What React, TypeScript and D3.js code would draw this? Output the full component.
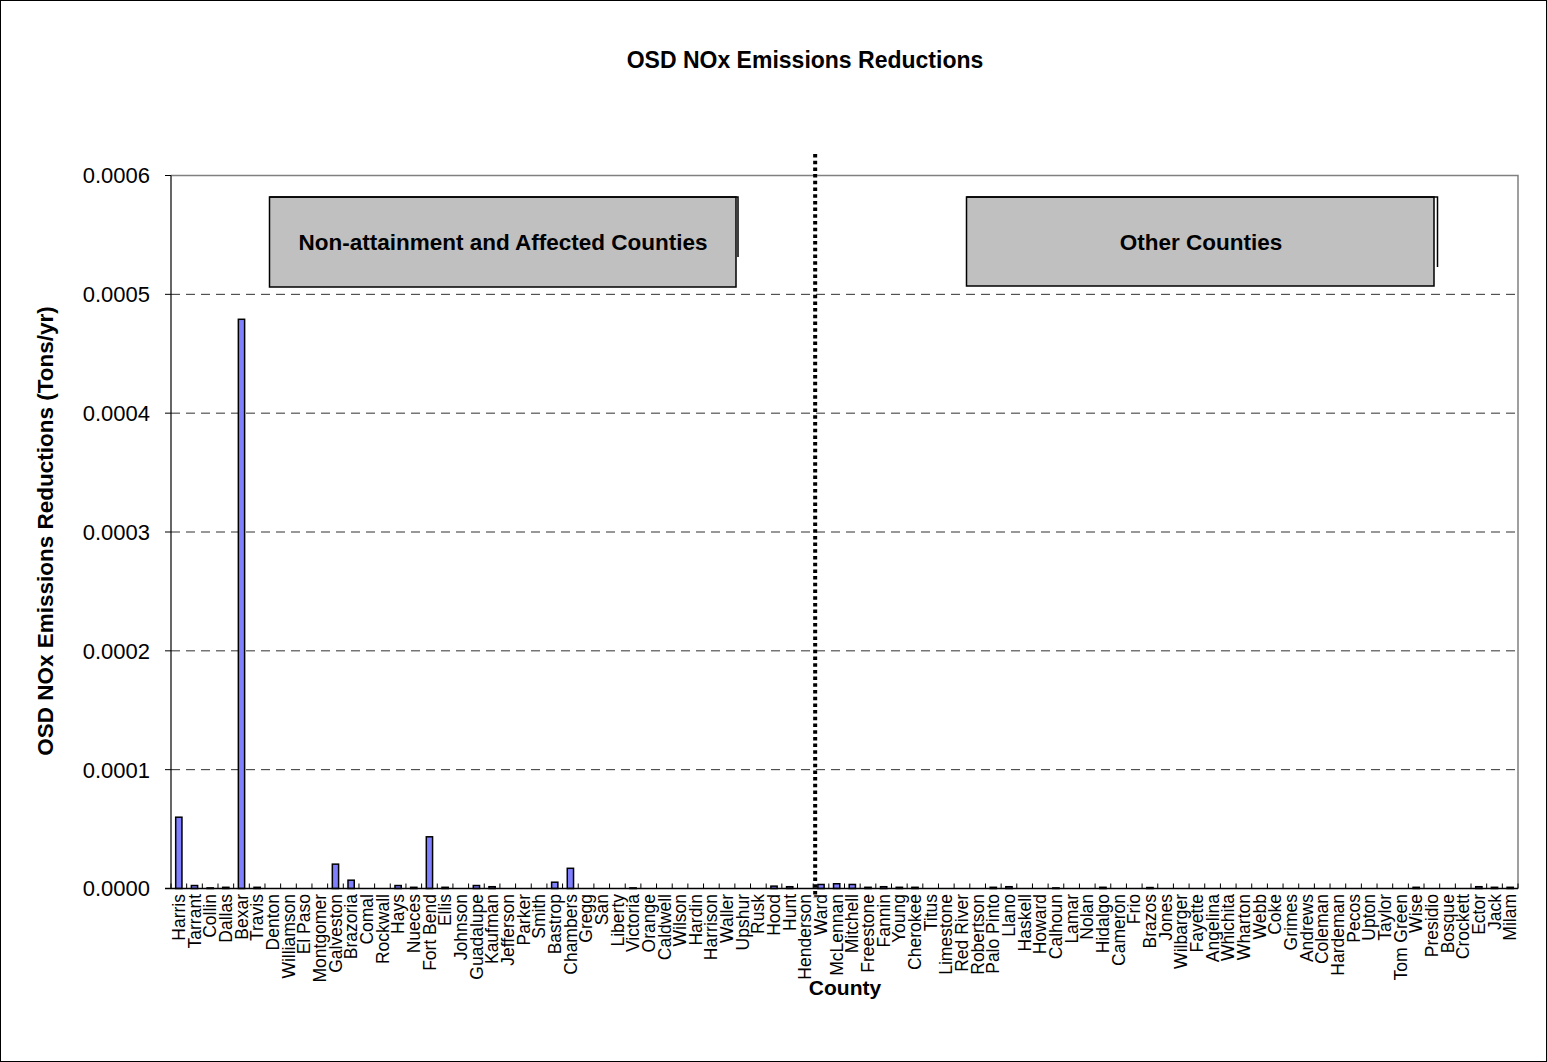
import React from "react";
import * as d3 from "d3";

const counties: string[] = [
  "Harris", "Tarrant", "Collin", "Dallas", "Bexar", "Travis", "Denton", "Williamson", "El Paso", "Montgomer",
  "Galveston", "Brazoria", "Comal", "Rockwall", "Hays", "Nueces", "Fort Bend", "Ellis", "Johnson", "Guadalupe",
  "Kaufman", "Jefferson", "Parker", "Smith", "Bastrop", "Chambers", "Gregg", "San", "Liberty", "Victoria",
  "Orange", "Caldwell", "Wilson", "Hardin", "Harrison", "Waller", "Upshur", "Rusk", "Hood", "Hunt",
  "Henderson", "Ward", "McLennan", "Mitchell", "Freestone", "Fannin", "Young", "Cherokee", "Titus", "Limestone",
  "Red River", "Robertson", "Palo Pinto", "Llano", "Haskell", "Howard", "Calhoun", "Lamar", "Nolan", "Hidalgo",
  "Cameron", "Frio", "Brazos", "Jones", "Wilbarger", "Fayette", "Angelina", "Whichita", "Wharton", "Webb",
  "Coke", "Grimes", "Andrews", "Coleman", "Hardeman", "Pecos", "Upton", "Taylor", "Tom Green", "Wise",
  "Presidio", "Bosque", "Crockett", "Ector", "Jack", "Milam",
];

const noxReductions: number[] = [
  6.0e-5, 2.5e-6, 0.5e-6, 1.0e-6, 4.79e-4, 1.0e-6, 0, 0, 0, 0,
  2.05e-5, 7.0e-6, 0, 0, 2.5e-6, 1.0e-6, 4.35e-5, 1.0e-6, 0, 2.5e-6,
  1.5e-6, 0, 0, 0, 5.3e-6, 1.7e-5, 0, 0, 0, 0.5e-6,
  0, 0, 0, 0, 0, 0, 0, 0, 2.0e-6, 1.5e-6,
  0, 3.4e-6, 4.0e-6, 3.4e-6, 1.0e-6, 1.5e-6, 1.0e-6, 1.0e-6, 0, 0,
  0, 0, 1.0e-6, 1.5e-6, 0, 0, 0.5e-6, 0, 0, 1.0e-6,
  0, 0, 0.8e-6, 0, 0, 0, 0, 0, 0, 0,
  0, 0, 0, 0, 0, 0, 0, 0, 0, 1.0e-6,
  0, 0, 0, 1.5e-6, 1.0e-6, 1.0e-6,
];

const yTicks: number[] = [0, 0.0001, 0.0002, 0.0003, 0.0004, 0.0005, 0.0006];

const chartTitle = "OSD NOx Emissions Reductions";
const yTitle = "OSD NOx Emissions Reductions (Tons/yr)";
const xTitle = "County";
const groupLabels: string[] = ["Non-attainment and Affected Counties", "Other Counties"];
const dividerBefore = "Ward";

const W = 1547;
const H = 1062;
const plot = { left: 171, right: 1518, top: 175.5, bottom: 888.5 };
const FONT = "Arial, 'Liberation Sans', Helvetica, sans-serif";

export default function App() {
  const xCat = d3.scaleBand<string>().domain(counties).range([plot.left, plot.right]).padding(0);
  const xBar = d3
    .scaleBand<string>()
    .domain(counties)
    .range([plot.left, plot.right])
    .paddingInner(0.6)
    .paddingOuter(0.3);
  const y = d3.scaleLinear().domain([0, 0.0006]).range([plot.bottom, plot.top]);
  const step = xCat.step();
  const fmt = d3.format(".4f");
  const divX = (xCat(dividerBefore) as number) + 2;

  return (
    <svg
      width={W}
      height={H}
      style={{ position: "absolute", left: 0, top: 0, background: "#fff" }}
      fontFamily={FONT}
    >
      <rect x={0.5} y={0.5} width={W - 1} height={H - 1} fill="#fff" stroke="#000" strokeWidth={1} />

      {/* title */}
      <text x={805} y={68} textAnchor="middle" fontSize={23} fontWeight="bold">
        {chartTitle}
      </text>

      {/* gridlines */}
      {yTicks
        .filter((t) => t > 0 && t < 0.0006)
        .map((t) => (
          <line
            key={"g" + t}
            x1={plot.left}
            x2={plot.right}
            y1={y(t)}
            y2={y(t)}
            stroke="#303030"
            strokeWidth={1}
            strokeDasharray="9,6"
          />
        ))}

      {/* plot border top/right */}
      <path
        d={`M${plot.left},${plot.top}H${plot.right}V${plot.bottom}`}
        fill="none"
        stroke="#808080"
        strokeWidth={1.5}
      />

      {/* bars */}
      {counties.map((c, i) =>
        noxReductions[i] > 0 ? (
          <rect
            key={"b" + c}
            x={xBar(c) as number}
            y={y(noxReductions[i])}
            width={xBar.bandwidth()}
            height={Math.max(0, plot.bottom - y(noxReductions[i]))}
            fill="#8080ff"
            stroke="#000"
            strokeWidth={1.5}
          />
        ) : null
      )}

      {/* y axis */}
      <line x1={plot.left} x2={plot.left} y1={plot.top} y2={plot.bottom} stroke="#000" strokeWidth={1.2} />
      {yTicks.map((t) => (
        <g key={"yt" + t}>
          <line x1={plot.left - 6} x2={plot.left} y1={y(t)} y2={y(t)} stroke="#000" strokeWidth={1} />
          <text x={150} y={y(t)} dy="0.36em" textAnchor="end" fontSize={22}>
            {fmt(t)}
          </text>
        </g>
      ))}

      {/* x axis */}
      <line x1={plot.left - 6} x2={plot.right} y1={plot.bottom} y2={plot.bottom} stroke="#000" strokeWidth={1.5} />
      {d3.range(counties.length + 1).map((k) => (
        <line
          key={"xt" + k}
          x1={plot.left + k * step}
          x2={plot.left + k * step}
          y1={plot.bottom - 5}
          y2={plot.bottom}
          stroke="#000"
          strokeWidth={1}
        />
      ))}
      {counties.map((c) => {
        const cx = (xCat(c) as number) + step / 2;
        return (
          <text
            key={"xl" + c}
            transform={`translate(${cx},${894}) rotate(-90)`}
            dy="0.35em"
            textAnchor="end"
            fontSize={17.5}
          >
            {c}
          </text>
        );
      })}

      {/* axis titles */}
      <text
        transform={`translate(45,531) rotate(-90)`}
        dy="0.35em"
        textAnchor="middle"
        fontSize={22.5}
        fontWeight="bold"
      >
        {yTitle}
      </text>
      <text x={845} y={995} textAnchor="middle" fontSize={21} fontWeight="bold">
        {xTitle}
      </text>

      {/* group boxes */}
      <rect x={269.5} y={197} width={736 - 269.5} height={90} fill="#c0c0c0" stroke="#000" strokeWidth={1.5} />
      <path d="M269.5,197H738V257" fill="none" stroke="#000" strokeWidth={1.5} />
      <text x={503} y={250} textAnchor="middle" fontSize={22.5} fontWeight="bold">
        {groupLabels[0]}
      </text>

      <rect x={966.5} y={197} width={1434 - 966.5} height={89} fill="#c0c0c0" stroke="#000" strokeWidth={1.5} />
      <path d="M966.5,197H1437.5V267" fill="none" stroke="#000" strokeWidth={1.5} />
      <text x={1201} y={250} textAnchor="middle" fontSize={22.5} fontWeight="bold">
        {groupLabels[1]}
      </text>

      {/* divider */}
      <line
        x1={divX}
        x2={divX}
        y1={154}
        y2={898}
        stroke="#000"
        strokeWidth={4}
        strokeDasharray="3.5,3.2"
      />
    </svg>
  );
}
